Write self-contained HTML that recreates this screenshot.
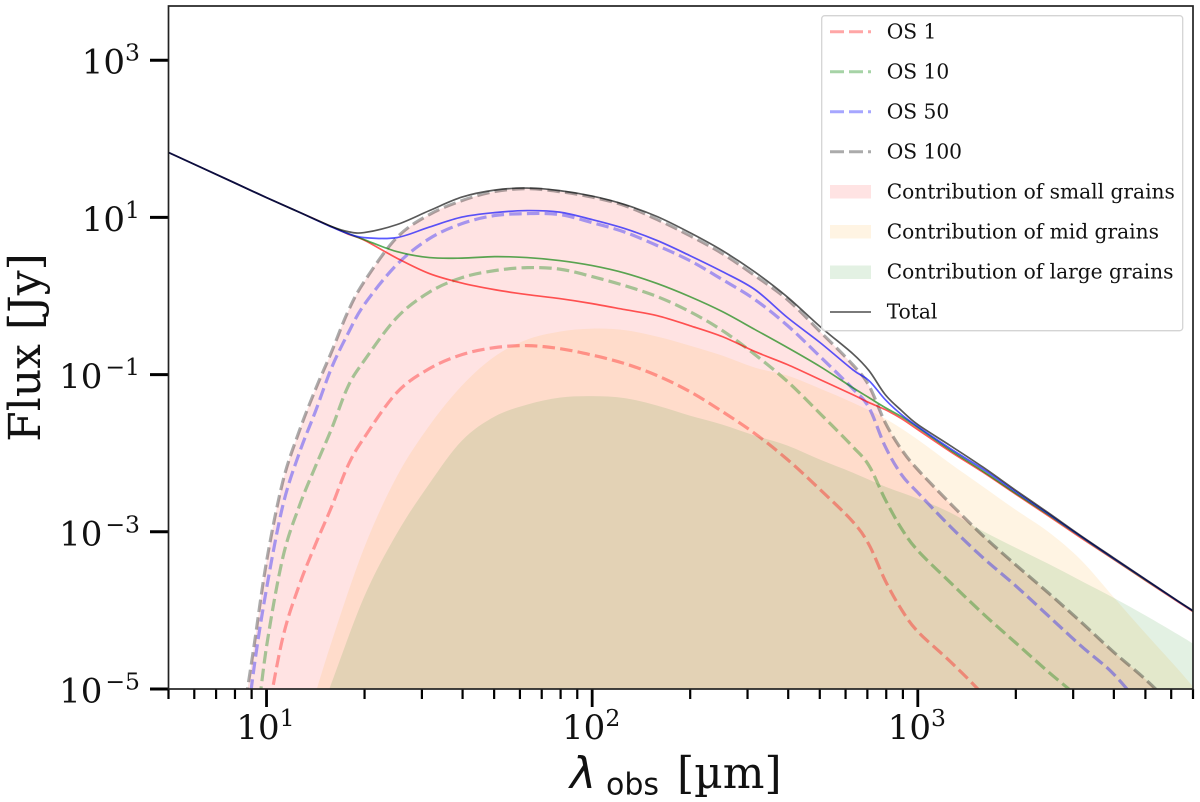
<!DOCTYPE html>
<html lang="en">
<head>
<meta charset="utf-8">
<title>Flux versus observed wavelength</title>
<style>
  html, body { margin: 0; padding: 0; background: #fff; width: 1200px; height: 802px; overflow: hidden; }
  svg { display: block; filter: blur(0.35px); }
  text { font-family: "DejaVu Serif", "Liberation Serif", serif; fill: #111; }
</style>
</head>
<body>
<svg id="chart" xmlns="http://www.w3.org/2000/svg" width="1200" height="802" viewBox="0 0 1200 802">
  <defs>
    <clipPath id="plot-clip"><rect x="168.5" y="6" width="1024.5" height="683"/></clipPath>
  </defs>
  <g id="fills" clip-path="url(#plot-clip)"></g>
  <g id="dashed" clip-path="url(#plot-clip)"></g>
  <g id="solid" clip-path="url(#plot-clip)"></g>
  <g id="ticks"></g>
  <rect x="168.5" y="6" width="1024.5" height="683" fill="none" stroke="#222" stroke-width="1.7"/>
  <g id="tick-labels"></g>

  <text transform="translate(40,347.5) rotate(-90)" text-anchor="middle" font-size="44">Flux [Jy]</text>
  <text font-size="44"><tspan x="570" y="788" font-family="'DejaVu Sans'" font-style="italic">λ</tspan><tspan x="606" y="794.5" font-family="'DejaVu Sans'" font-size="30">obs</tspan><tspan x="677" y="788">[µm]</tspan></text>

  <g id="legend">
    <rect x="821.7" y="15.7" width="361" height="315" rx="3" fill="#fff" fill-opacity="0.85" stroke="#d4d4d4" stroke-width="1.3"/>
    <g>
      <line x1="830" x2="871" y1="31.7" y2="31.7" stroke="#f00" stroke-opacity="0.35" stroke-width="3" stroke-dasharray="14 5"/>
      <text x="886.7" y="38.3" font-size="20.2">OS 1</text>
    </g>
    <g>
      <line x1="830" x2="871" y1="71.7" y2="71.7" stroke="#008000" stroke-opacity="0.35" stroke-width="3" stroke-dasharray="14 5"/>
      <text x="886.7" y="78.3" font-size="20.2">OS 10</text>
    </g>
    <g>
      <line x1="830" x2="871" y1="111.7" y2="111.7" stroke="#00f" stroke-opacity="0.35" stroke-width="3" stroke-dasharray="14 5"/>
      <text x="886.7" y="118.3" font-size="20.2">OS 50</text>
    </g>
    <g>
      <line x1="830" x2="871" y1="151.7" y2="151.7" stroke="#000" stroke-opacity="0.33" stroke-width="3" stroke-dasharray="14 5"/>
      <text x="886.7" y="158.3" font-size="20.2">OS 100</text>
    </g>
    <g>
      <rect x="830" y="185" width="41" height="13.5" fill="#f00" fill-opacity="0.11"/>
      <text x="886.7" y="198.3" font-size="20.2">Contribution of small grains</text>
    </g>
    <g>
      <rect x="830" y="225" width="41" height="13.5" fill="#ff9800" fill-opacity="0.11"/>
      <text x="886.7" y="238.3" font-size="20.2">Contribution of mid grains</text>
    </g>
    <g>
      <rect x="830" y="265.5" width="41" height="13.5" fill="#008000" fill-opacity="0.11"/>
      <text x="886.7" y="278.6" font-size="20.2">Contribution of large grains</text>
    </g>
    <g>
      <line x1="830" x2="871" y1="312" y2="312" stroke="#000" stroke-opacity="0.6" stroke-width="1.7"/>
      <text x="886.7" y="318.6" font-size="20.2">Total</text>
    </g>
  </g>
</svg>

<script>
// Axis limits and tick data (wavelength in um, flux in Jy)
const xLimits = [5, 7000];
const yMajorExponents = [3, 1, -1, -3, -5];
const xMajorExponents = [1, 2, 3];
const xMinorMultipliers = [2, 3, 4, 5, 6, 7, 8, 9];

// log10(wavelength) grids
const solidLogLambda = [0.7,0.9,1.0,1.1,1.2,1.25,1.3,1.4,1.5,1.6,1.7,1.8,1.9,2.0,2.1,2.2,2.3,2.4,2.5,2.6,2.7,2.8,2.85,2.9,2.95,3.0,3.1,3.2,3.3,3.4,3.5,3.6,3.7,3.8,3.85];
const dashedLogLambda = [0.92,0.96,1.0,1.05,1.1,1.15,1.2,1.25,1.3,1.4,1.5,1.6,1.7,1.8,1.9,2.0,2.1,2.2,2.3,2.4,2.5,2.6,2.7,2.8,2.85,2.9,2.95,3.0,3.1,3.2,3.3,3.4,3.5,3.6,3.7,3.8,3.85];
const grainLogLambda = [1.14,1.2,1.3,1.4,1.5,1.6,1.7,1.8,1.9,2.0,2.1,2.2,2.3,2.4,2.5,2.6,2.7,2.8,2.9,3.0,3.1,3.2,3.3,3.4,3.5,3.6,3.7,3.8,3.85];

// log10(flux) for the solid lines
const os1SolidLogFlux = [1.824,1.443,1.252,1.067,0.883,0.788,0.711,0.482,0.285,0.164,0.081,0.018,-0.033,-0.097,-0.173,-0.25,-0.377,-0.517,-0.707,-0.873,-1.064,-1.255,-1.356,-1.446,-1.56,-1.7,-1.98,-2.242,-2.52,-2.794,-3.074,-3.347,-3.621,-3.894,-4.028];
const os10SolidLogFlux = [1.824,1.443,1.252,1.067,0.883,0.794,0.717,0.565,0.489,0.482,0.501,0.489,0.451,0.387,0.292,0.158,-0.008,-0.199,-0.427,-0.657,-0.898,-1.166,-1.293,-1.42,-1.535,-1.674,-1.961,-2.228,-2.508,-2.781,-3.061,-3.341,-3.615,-3.888,-4.022];
const os50SolidLogFlux = [1.824,1.443,1.252,1.067,0.877,0.794,0.743,0.743,0.877,1.004,1.061,1.087,1.067,0.972,0.858,0.705,0.514,0.31,0.081,-0.275,-0.593,-0.937,-1.076,-1.318,-1.509,-1.662,-1.942,-2.202,-2.489,-2.769,-3.055,-3.335,-3.609,-3.886,-4.019];
const totalSolidLogFlux = [1.824,1.443,1.252,1.067,0.883,0.819,0.807,0.908,1.086,1.258,1.347,1.373,1.341,1.271,1.163,1.01,0.806,0.577,0.304,-0.015,-0.389,-0.733,-0.949,-1.255,-1.458,-1.636,-1.904,-2.177,-2.47,-2.756,-3.048,-3.328,-3.606,-3.883,-4.016];

// log10(flux) for the dashed lines
const os1DashedLogFlux = [-6.28,-6.28,-5.415,-4.346,-3.685,-3.163,-2.68,-2.158,-1.802,-1.229,-0.924,-0.746,-0.657,-0.631,-0.669,-0.752,-0.86,-1.013,-1.216,-1.471,-1.751,-2.082,-2.463,-2.87,-3.163,-3.621,-3.99,-4.27,-4.652,-5.071,-5.58,-6.09,-6.217,-6.217,-6.217,-6.217,-6.217];
const os10DashedLogFlux = [-6.217,-5.708,-4.461,-3.329,-2.68,-2.171,-1.687,-1.153,-0.822,-0.275,0.049,0.234,0.323,0.361,0.342,0.247,0.132,-0.008,-0.199,-0.44,-0.746,-1.089,-1.496,-1.916,-2.158,-2.59,-2.959,-3.239,-3.646,-4.041,-4.41,-4.779,-5.135,-5.58,-6.026,-6.217,-6.217];
const os50DashedLogFlux = [-6.153,-4.779,-3.723,-2.667,-2.005,-1.471,-0.911,-0.479,-0.11,0.399,0.73,0.921,1.023,1.048,1.036,0.934,0.813,0.641,0.45,0.209,-0.046,-0.377,-0.771,-1.178,-1.42,-1.916,-2.273,-2.501,-2.934,-3.329,-3.685,-4.066,-4.448,-4.804,-5.288,-5.771,-6.026];
const os100DashedLogFlux = [-5.58,-4.499,-3.379,-2.362,-1.725,-1.191,-0.708,-0.199,0.183,0.743,1.036,1.214,1.328,1.366,1.328,1.258,1.15,0.972,0.768,0.539,0.259,-0.046,-0.453,-0.873,-1.14,-1.611,-1.954,-2.209,-2.641,-3.049,-3.418,-3.774,-4.143,-4.525,-4.881,-5.288,-5.517];

// log10(flux) for the grain contributions
const smallGrainLogFlux = [-5.58,-4.499,-3.379,-2.362,-1.725,-1.191,-0.708,-0.199,0.183,0.743,1.036,1.214,1.328,1.366,1.328,1.258,1.15,0.972,0.768,0.539,0.259,-0.046,-0.453,-0.873,-1.14,-1.611,-1.954,-2.209,-2.641,-3.049,-3.418,-3.774,-4.143,-4.525,-4.881,-5.288,-5.517];
const midGrainLogFlux = [-5.199,-4.397,-3.201,-2.298,-1.649,-1.14,-0.771,-0.555,-0.453,-0.415,-0.434,-0.517,-0.631,-0.759,-0.911,-1.013,-1.178,-1.356,-1.56,-1.827,-2.133,-2.425,-2.718,-2.998,-3.354,-3.825,-4.296,-4.753,-4.995];
const largeGrainLogFlux = [-5.58,-4.919,-3.825,-3.023,-2.387,-1.84,-1.535,-1.382,-1.293,-1.274,-1.299,-1.395,-1.522,-1.636,-1.776,-1.903,-2.082,-2.247,-2.425,-2.578,-2.756,-2.991,-3.201,-3.405,-3.621,-3.837,-4.066,-4.308,-4.435];

const NS = 'http://www.w3.org/2000/svg';
const plotLeft = 168.5, plotRight = 1193, plotTop = 6, plotBottom = 689;

// Axis functions (input is log10 of the data value)
function xScale(logLambda) {
  const lo = Math.log10(xLimits[0]);
  const hi = Math.log10(xLimits[1]);
  return plotLeft + (logLambda - lo) / (hi - lo) * (plotRight - plotLeft);
}
function yScale(logFlux) {
  return 689 - (logFlux + 5) * 78.6;
}

function smoothPath(logX, logY) {
  const p = logX.map(function (v, i) { return [xScale(v), yScale(logY[i])]; });
  let d = 'M' + p[0][0].toFixed(2) + ' ' + p[0][1].toFixed(2);
  for (let i = 0; i < p.length - 1; i++) {
    const p0 = p[Math.max(i - 1, 0)], p1 = p[i], p2 = p[i + 1], p3 = p[Math.min(i + 2, p.length - 1)];
    const c1x = p1[0] + (p2[0] - p0[0]) / 6, c1y = p1[1] + (p2[1] - p0[1]) / 6;
    const c2x = p2[0] - (p3[0] - p1[0]) / 6, c2y = p2[1] - (p3[1] - p1[1]) / 6;
    d += 'C' + c1x.toFixed(2) + ' ' + c1y.toFixed(2) + ' ' + c2x.toFixed(2) + ' ' + c2y.toFixed(2) + ' ' + p2[0].toFixed(2) + ' ' + p2[1].toFixed(2);
  }
  return d;
}

// Filled grain contributions
const fillGroup = document.getElementById('fills');
const smallFill = document.createElementNS(NS, 'path');


smallFill.setAttribute('d', smoothPath(dashedLogLambda, smallGrainLogFlux) + 'L' + xScale(3.85) + ' 760L' + xScale(0.92) + ' 760Z');
smallFill.setAttribute('fill', '#f00');
smallFill.setAttribute('fill-opacity', '0.11');
fillGroup.appendChild(smallFill);

const midFill = document.createElementNS(NS, 'path');


midFill.setAttribute('d', smoothPath(grainLogLambda, midGrainLogFlux) + 'L' + xScale(3.85) + ' 760L' + xScale(1.14) + ' 760Z');
midFill.setAttribute('fill', '#ff9800');
midFill.setAttribute('fill-opacity', '0.11');
fillGroup.appendChild(midFill);

const largeFill = document.createElementNS(NS, 'path');


largeFill.setAttribute('d', smoothPath(grainLogLambda, largeGrainLogFlux) + 'L' + xScale(3.85) + ' 760L' + xScale(1.14) + ' 760Z');
largeFill.setAttribute('fill', '#008000');
largeFill.setAttribute('fill-opacity', '0.11');
fillGroup.appendChild(largeFill);

// Dashed lines
const dashedSeriesNames = ['os-1-dashed-line', 'os-10-dashed-line', 'os-50-dashed-line', 'os-100-dashed-line'];
const dashedSeriesValues = [os1DashedLogFlux, os10DashedLogFlux, os50DashedLogFlux, os100DashedLogFlux];
const dashedColors = ['#f00', '#008000', '#00f', '#000'];
const dashedGroup = document.getElementById('dashed');
dashedSeriesValues.forEach(function (values, i) {
  const path = document.createElementNS(NS, 'path');
  
  
  path.setAttribute('d', smoothPath(dashedLogLambda, values));
  path.setAttribute('fill', 'none');
  path.setAttribute('stroke', dashedColors[i]);
  path.setAttribute('stroke-opacity', i === 3 ? '0.33' : '0.35');
  path.setAttribute('stroke-width', '3.2');
  path.setAttribute('stroke-dasharray', '12.5 5.2');
  dashedGroup.appendChild(path);
});

// Solid lines
const solidSeriesNames = ['os-1-solid-line', 'os-10-solid-line', 'os-50-solid-line', 'total-solid-line'];
const solidSeriesValues = [os1SolidLogFlux, os10SolidLogFlux, os50SolidLogFlux, totalSolidLogFlux];
const solidColors = ['#f00', '#008000', '#00f', '#000'];
const solidGroup = document.getElementById('solid');
solidSeriesValues.forEach(function (values, i) {
  const path = document.createElementNS(NS, 'path');
  
  
  path.setAttribute('d', smoothPath(solidLogLambda, values));
  path.setAttribute('fill', 'none');
  path.setAttribute('stroke', solidColors[i]);
  path.setAttribute('stroke-opacity', '0.65');
  path.setAttribute('stroke-width', '1.7');
  solidGroup.appendChild(path);
});

// Ticks
const tickGroup = document.getElementById('ticks');
function addTick(x1, y1, x2, y2, width, name) {
  const line = document.createElementNS(NS, 'line');
  
  
  line.setAttribute('x1', x1);
  line.setAttribute('y1', y1);
  line.setAttribute('x2', x2);
  line.setAttribute('y2', y2);
  line.setAttribute('stroke', '#000');
  line.setAttribute('stroke-width', width);
  tickGroup.appendChild(line);
}
yMajorExponents.forEach(function (e) {
  addTick(150, yScale(e), plotLeft, yScale(e), 3, 'y-major-tick');
});
xMajorExponents.forEach(function (e) {
  addTick(xScale(e), plotBottom, xScale(e), 707, 2.8, 'x-major-tick');
});
[0, 1, 2, 3].forEach(function (decade) {
  xMinorMultipliers.forEach(function (m) {
    const value = m * Math.pow(10, decade);
    if (value >= xLimits[0] && value <= xLimits[1]) {
      addTick(xScale(Math.log10(value)), plotBottom, xScale(Math.log10(value)), 699, 2.2, 'x-minor-tick');
    }
  });
});

// Tick labels
const labelGroup = document.getElementById('tick-labels');
function powerLabel(x, y, anchor, exponent, name) {
  const t = document.createElementNS(NS, 'text');
  
  
  t.setAttribute('x', x);
  t.setAttribute('y', y);
  t.setAttribute('text-anchor', anchor);
  t.setAttribute('font-size', '34');
  const base = document.createElementNS(NS, 'tspan');
  base.textContent = '10';
  const sup = document.createElementNS(NS, 'tspan');
  sup.setAttribute('font-size', '23.5');
  sup.setAttribute('dy', '-13');
  sup.setAttribute('dx', exponent < 0 ? '3' : '0');
  sup.textContent = String(exponent).replace('-', '\u2212');
  t.appendChild(base);
  t.appendChild(sup);
  labelGroup.appendChild(t);
}
yMajorExponents.forEach(function (e) {
  powerLabel(140, yScale(e) + 13.5, 'end', e, 'y-tick-label');
});
xMajorExponents.forEach(function (e) {
  powerLabel(xScale(e) - 1, 739, 'middle', e, 'x-tick-label');
});
</script>
</body>
</html>
